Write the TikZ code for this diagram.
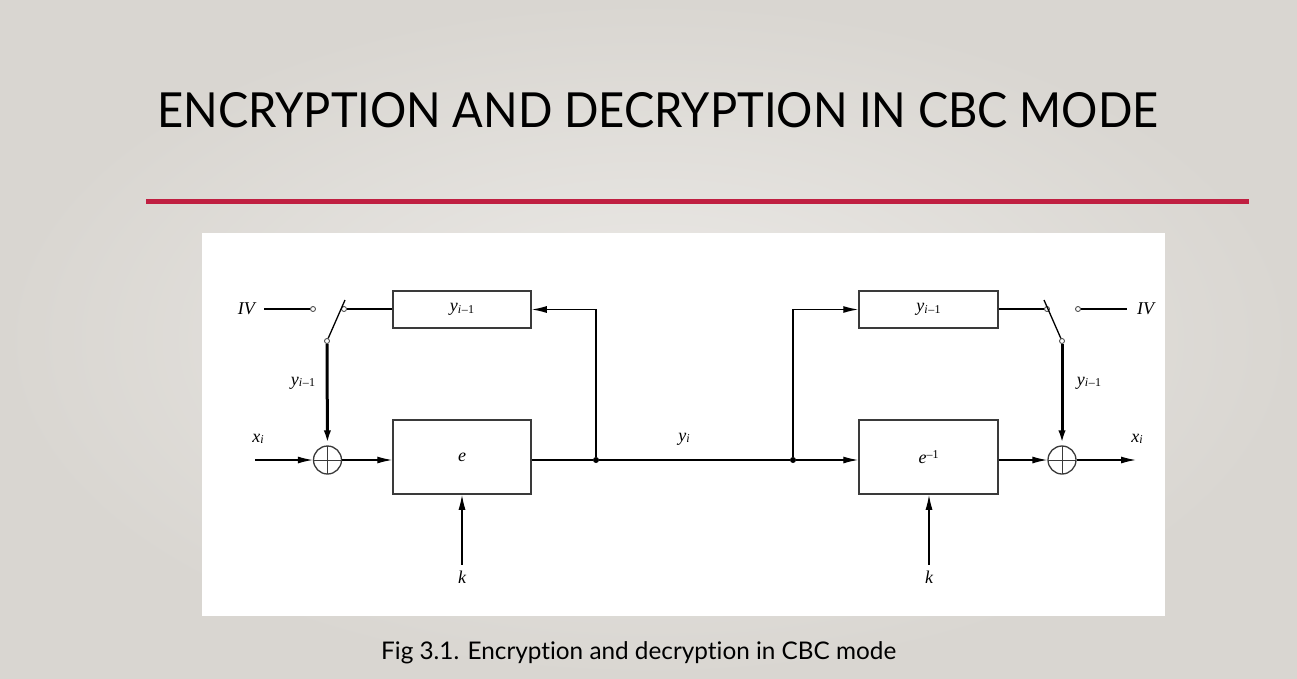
\documentclass[tikz,border=0pt]{standalone}
\usepackage{fontspec}
\usepackage{graphicx}
\usetikzlibrary{arrows.meta,positioning,calc}
\setmainfont{Liberation Serif}
\newfontfamily\tfont[Ligatures=NoCommon]{Lato}
\definecolor{bgi}{HTML}{ECEAE7}
\definecolor{bgo}{HTML}{D9D6D1}
\definecolor{rl}{HTML}{C01F41}
\definecolor{bx}{HTML}{3A3A3A}
\newcommand{\Lv}[1]{\fontsize{18}{20}\selectfont\itshape #1}
\newcommand{\Yprev}{{\fontsize{18}{20}\selectfont\itshape y}\raisebox{-0.35ex}{\fontsize{12}{14}\selectfont{\itshape i}\kern0.5pt–\kern0.3pt1}}
\newcommand{\Xcur}{{\fontsize{18}{20}\selectfont\itshape x}\raisebox{-0.35ex}{\fontsize{12}{14}\selectfont\itshape i}}
\newcommand{\Ycur}{{\fontsize{18}{20}\selectfont\itshape y}\raisebox{-0.35ex}{\fontsize{12}{14}\selectfont\itshape i}}

\begin{document}
\begin{tikzpicture}[x=1pt,y=-1pt,
    blk/.style={draw=bx, line width=1.5pt, fill=white, minimum width=138pt, minimum height=37pt, inner sep=0pt},
    xorc/.style={circle, draw=bx, line width=1.3pt, minimum size=28pt, inner sep=0pt,
      path picture={\draw[bx, line width=1pt] (path picture bounding box.north) -- (path picture bounding box.south)
        (path picture bounding box.west) -- (path picture bounding box.east);}},
    ctc/.style={circle, draw=bx, line width=0.8pt, fill=white, minimum size=5pt, inner sep=0pt},
    jdot/.style={circle, fill=black, minimum size=6pt, inner sep=0pt},
    lbl/.style={inner sep=0pt},
    ln/.style={line width=1.3pt},
    thk/.style={line width=3pt},
    arr/.style={-{Latex[length=15pt,width=7pt]}}]
  \useasboundingbox (0,0) rectangle (1297,678);
  \shade[inner color=bgi, outer color=bgo] (0,0) rectangle (1297,678);
  \node[anchor=south west, inner sep=0pt] (ttl) at (157,128)
    {\resizebox{1001pt}{35pt}{\tfont ENCRYPTION AND DECRYPTION IN CBC MODE}};
  \fill[rl] (146,199) rectangle (1249,203.5);
  \fill[white] (202,233) rectangle (1165,616);

  \node[blk] (encreg) at (462,309.5) {\Yprev};
  \node[blk, minimum height=74pt] (enc) at (462,457) {\Lv{e}};
  \node[blk, minimum width=139pt] (decreg) at (928.5,309.5) {\Yprev};
  \node[blk, minimum width=139pt, minimum height=74pt] (dec) at (928.5,457)
    {{\Lv{e}}\raisebox{1.2ex}{\fontsize{12}{14}\selectfont –1}};

  \node[xorc] (xl) at (327.5,460) {};
  \node[xorc] (xr) at (1062,460) {};
  \node[jdot] (jl) at (596,460) {};
  \node[jdot] (jr) at (793,460) {};

  \node[lbl, anchor=east] (ivl) at (255,309) {\Lv{IV}};
  \node[ctc] (cil) at (313,309) {};
  \node[ctc] (cul) at (344,309) {};
  \node[ctc] (cbl) at (327,341) {};
  \coordinate (bll) at (345,300);
  \node[lbl, anchor=west] (ivr) at (1137,309) {\Lv{IV}};
  \node[ctc] (cir) at (1078,309) {};
  \node[ctc] (cur) at (1047,309) {};
  \node[ctc] (cbr) at (1062,341) {};
  \coordinate (blr) at (1044,300);

  \node[lbl] (ylab) at (303,383) {\Yprev};
  \node[lbl] (yrab) at (1089,383) {\Yprev};
  \node[lbl] (xil) at (258,439) {\Xcur};
  \node[lbl] (xir) at (1137,439) {\Xcur};
  \node[lbl] (yi) at (684,439) {\Ycur};
  \node[inner sep=6pt] (kl) at (462,577) {\Lv{k}};
  \node[inner sep=6pt] (kr) at (929,577) {\Lv{k}};
  \coordinate (xin) at (255,460);
  \coordinate (xout) at (1136,460);

  \draw[ln] ($(ivl.east)+(9,0)$) -- (cil);
  \draw[ln] (cbl) -- (bll);
  \draw[ln] (cul) -- (cul -| encreg.west);
  \draw[thk, arr] (cbl) -- (xl);
  \draw[ln, arr] (xin) -- (xl);
  \draw[ln, arr] (xl) -- (xl -| enc.west);
  \draw[ln] (jl -| enc.east) -- (jl) -- (jr);
  \draw[ln, arr] (jl) |- (encreg);
  \draw[ln, arr] (jr) |- (decreg);
  \draw[ln, arr] (jr) -- (jr -| dec.west);
  \draw[ln, arr] (xr -| dec.east) -- (xr);
  \draw[ln, arr] (xr) -- (xout);
  \draw[ln] (cur -| decreg.east) -- (cur);
  \draw[ln] (cbr) -- (blr);
  \draw[ln] (cir) -- ($(ivr.west)+(-10,0)$);
  \draw[thk, arr] (cbr) -- (xr);
  \draw[ln, arr] (kl) -- (enc);
  \draw[ln, arr] (kr) -- (kr |- dec.south);

  \node[anchor=base west, inner sep=0pt] (cap) at (381,659)
    {\resizebox{515pt}{!}{\tfont Fig 3.1. Encryption and decryption in CBC mode}};
\end{tikzpicture}
\end{document}
